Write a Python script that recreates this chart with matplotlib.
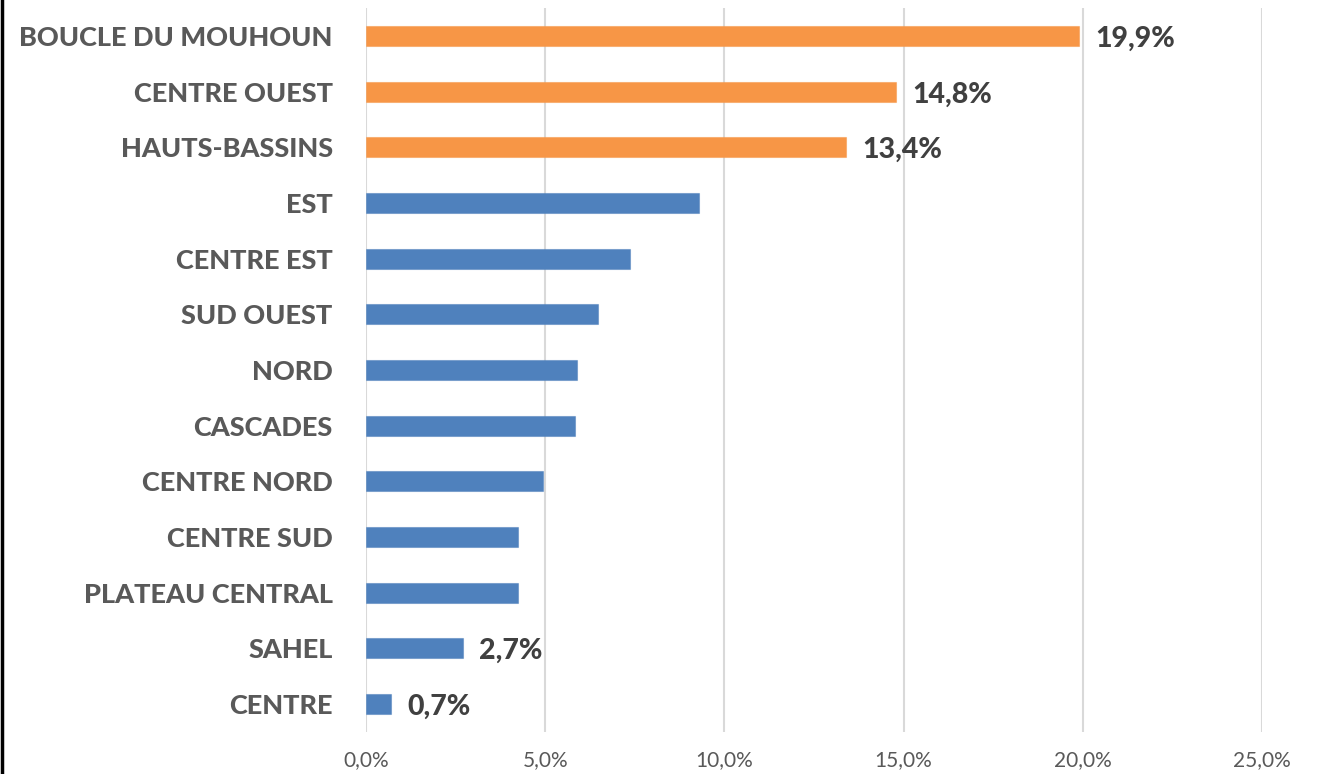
import matplotlib.pyplot as plt
from matplotlib.lines import Line2D
from matplotlib.ticker import FixedLocator, FuncFormatter

regions = ['BOUCLE DU MOUHOUN', 'CENTRE OUEST', 'HAUTS-BASSINS', 'EST', 'CENTRE EST',
           'SUD OUEST', 'NORD', 'CASCADES', 'CENTRE NORD', 'CENTRE SUD',
           'PLATEAU CENTRAL', 'SAHEL', 'CENTRE']
values = [19.9, 14.8, 13.4, 9.3, 7.37, 6.48, 5.89, 5.84, 4.94, 4.25, 4.25, 2.7, 0.7]
colors = ['#F79646'] * 3 + ['#4F81BD'] * 10
shown = {0, 1, 2, 11, 12}
xticks = [0, 5, 10, 15, 20, 25]

plt.rcParams['font.family'] = ['Lato', 'DejaVu Sans']

fig = plt.figure(figsize=(13.17, 7.74), dpi=100)
ax = fig.add_axes([366 / 1317, 1 - 732 / 774, (1262 - 366) / 1317, 724 / 774])

pos = list(range(len(regions)))
ax.barh(pos, values, height=0.36, color=colors, edgecolor=[c + '80' for c in colors],
        linewidth=0.8, zorder=3)

for i in shown:
    ax.text(values[i] + 0.45, pos[i] + 0.05, f"{values[i]:.1f}%".replace('.', ','),
            va='center', ha='left', fontsize=20.5, fontweight='black', color='#404040')

ax.set_ylim(len(regions) - 0.5, -0.5)
ax.set_xlim(0, 25)
ax.set_yticks(pos)
ax.set_yticklabels(regions, fontsize=19.5, fontweight='black', color='#595959')
ax.xaxis.set_major_locator(FixedLocator(xticks))
ax.xaxis.set_major_formatter(FuncFormatter(lambda x, p: f"{x:.1f}%".replace('.', ',')))
ax.tick_params(axis='x', labelsize=15, labelcolor='#595959', length=0, pad=13)
ax.tick_params(axis='y', length=0, pad=24)
ax.grid(axis='x', color='#D9D9D9', linewidth=1.5, zorder=0)
for s in ax.spines.values():
    s.set_visible(False)

fig.add_artist(Line2D([0.0015, 0.0015], [0, 1], color='black', linewidth=2.5))

plt.savefig('out.png', dpi=100)
